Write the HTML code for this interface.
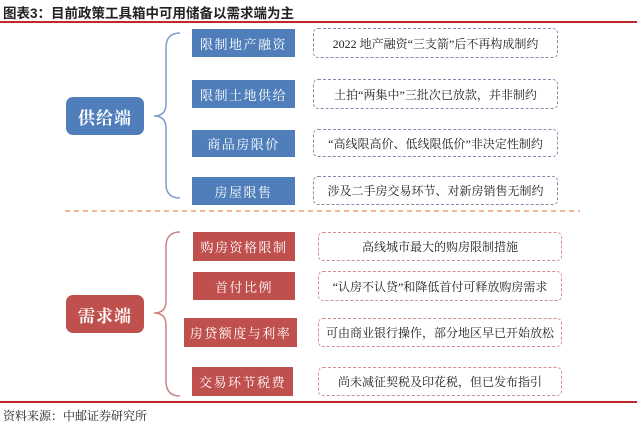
<!DOCTYPE html>
<html><head><meta charset="utf-8"><style>
body{margin:0;width:640px;height:428px;background:#fff;position:relative;overflow:hidden;font-family:"Liberation Serif","Noto Serif CJK SC",serif;}
.a{position:absolute;box-sizing:border-box;display:flex;align-items:center;justify-content:center;white-space:nowrap;}
.b{background:#4f7ebb;color:#fff;font-size:13px;letter-spacing:1.5px;}
.r{background:#c0504d;color:#fff;font-size:13px;letter-spacing:1.5px;}
.db{border:1.5px dashed #7f8fa8;border-radius:5px;color:#222;font-size:12px;}
.dr{border:1.5px dashed #d98c8c;border-radius:5px;color:#222;font-size:12px;}
.big{border-radius:7px;font-size:17px;font-weight:bold;color:#fff;letter-spacing:1px;}
</style></head><body>
<div class="a" style="left:3px;top:2px;height:20px;font-size:13.5px;font-weight:bold;color:#222;font-family:'Liberation Sans','Noto Sans CJK SC',sans-serif;">图表3：目前政策工具箱中可用储备以需求端为主</div>
<div style="position:absolute;left:0;top:21px;width:637px;height:2px;background:#c0282d"></div>
<svg style="position:absolute;left:0;top:0" width="640" height="428">
<path d="M180,33 Q166,33 166,48 L166,104 Q166,116 154,116 Q166,116 166,128 L166,184 Q166,198 180,198" fill="none" stroke="#7f9cc8" stroke-width="1.5"/>
<path d="M180,232 Q166,232 166,247 L166,301 Q166,313 154,313 Q166,313 166,325 L166,381 Q166,396 180,396" fill="none" stroke="#c98585" stroke-width="1.5"/>
<line x1="65" y1="211" x2="580" y2="211" stroke="#f0a070" stroke-width="1.5" stroke-dasharray="5,4"/>
</svg>
<div class="a b big" style="left:66px;top:97px;width:78px;height:38px">供给端</div>
<div class="a r big" style="left:66px;top:295px;width:78px;height:38px">需求端</div>
<div class="a b" style="left:192px;top:29px;width:103px;height:28px">限制地产融资</div>
<div class="a b" style="left:192px;top:80px;width:103px;height:28px">限制土地供给</div>
<div class="a b" style="left:192px;top:130px;width:103px;height:27px">商品房限价</div>
<div class="a b" style="left:192px;top:177px;width:103px;height:28px">房屋限售</div>
<div class="a db" style="left:313px;top:28px;width:245px;height:30px">2022 地产融资“三支箭”后不再构成制约</div>
<div class="a db" style="left:313px;top:79px;width:245px;height:30px">土拍“两集中”三批次已放款，并非制约</div>
<div class="a db" style="left:313px;top:129px;width:245px;height:28px">“高线限高价、低线限低价”非决定性制约</div>
<div class="a db" style="left:313px;top:176px;width:245px;height:29px">涉及二手房交易环节、对新房销售无制约</div>
<div class="a r" style="left:193px;top:232px;width:102px;height:29px">购房资格限制</div>
<div class="a r" style="left:193px;top:272px;width:102px;height:28px">首付比例</div>
<div class="a r" style="left:184px;top:318px;width:113px;height:29px">房贷额度与利率</div>
<div class="a r" style="left:192px;top:367px;width:101px;height:29px">交易环节税费</div>
<div class="a dr" style="left:318px;top:232px;width:244px;height:29px">高线城市最大的购房限制措施</div>
<div class="a dr" style="left:318px;top:271px;width:244px;height:30px">“认房不认贷”和降低首付可释放购房需求</div>
<div class="a dr" style="left:318px;top:318px;width:244px;height:29px">可由商业银行操作，部分地区早已开始放松</div>
<div class="a dr" style="left:318px;top:367px;width:244px;height:29px">尚未减征契税及印花税，但已发布指引</div>
<div style="position:absolute;left:0;top:401px;width:637px;height:2px;background:#c0282d"></div>
<div class="a" style="left:3px;top:406px;height:18px;font-size:12px;color:#222">资料来源：中邮证券研究所</div>
</body></html>
